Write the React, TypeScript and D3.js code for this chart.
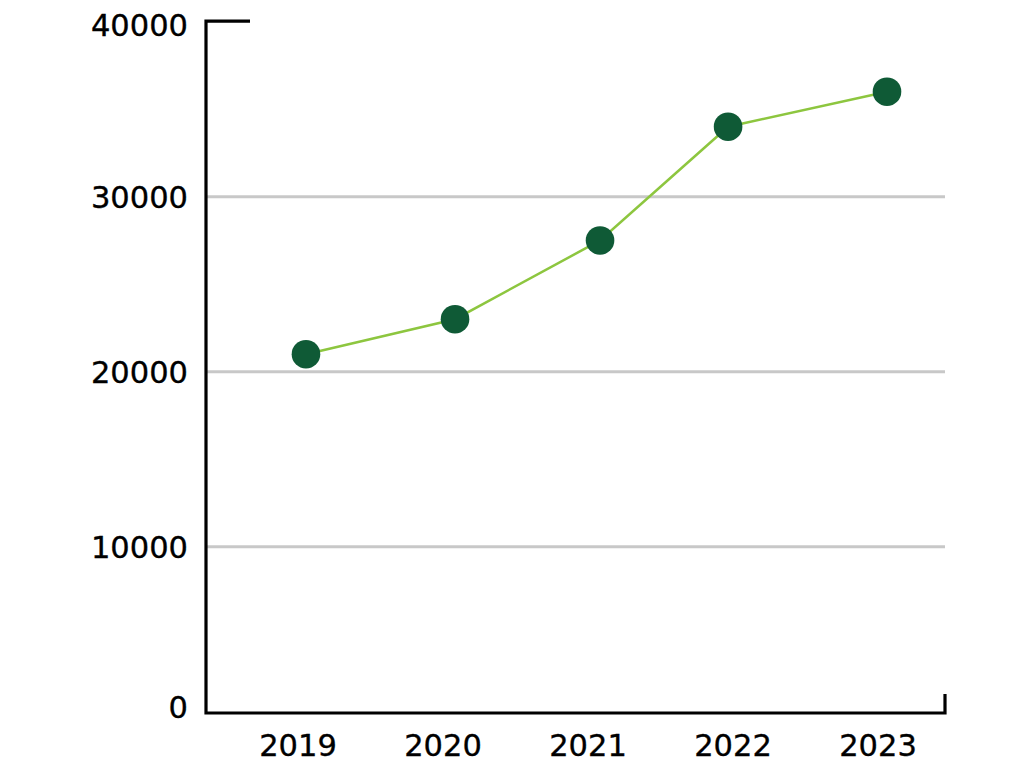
import React from "react";
import * as d3 from "d3";

const years = [2019, 2020, 2021, 2022, 2023];
const pointX = [2019.055, 2020.083, 2021.083, 2021.966, 2023.062];
const values = [21000, 23000, 27500, 34000, 36000];
const yTicks = [0, 10000, 20000, 30000, 40000];
const gridTicks = [10000, 20000, 30000];

export default function App() {
  const W = 1024, H = 775;
  const x = d3.scaleLinear().domain([2019, 2023]).range([298, 878]);
  const y = d3.scaleLinear().domain([0, 40000]).range([721.7, 21.7]);
  const axisY = 713;
  const left = 206, right = 945;
  const line = d3.line<number>().x((_, i) => x(pointX[i])).y((d) => y(d));
  const font = "'DejaVu Sans', sans-serif";
  const labelY = (t: number) => (t === 0 ? axisY - 6 : t === 40000 ? y(t) + 3.5 : y(t) + 0.5);
  return (
    <svg width={W} height={H} style={{ position: "absolute", left: 0, top: 0, background: "#fff" }}>
      {gridTicks.map((t) => (
        <line key={t} x1={left} x2={right} y1={y(t)} y2={y(t)} stroke="#c8c8c8" strokeWidth={3} />
      ))}
      <path d={`M${left + 44},${y(40000) - 0.5}H${left}V${axisY}H${right}V${axisY - 19}`} fill="none" stroke="#000" strokeWidth={3.2} />
      {yTicks.map((t) => (
        <text key={t} x={188} y={labelY(t)} textAnchor="end" dominantBaseline="central" fontFamily={font} fontSize={30.5} fill="#000" stroke="#000" strokeWidth={0.35}>
          {t}
        </text>
      ))}
      {years.map((yr) => (
        <text key={yr} x={x(yr)} y={756} textAnchor="middle" fontFamily={font} fontSize={30.5} fill="#000" stroke="#000" strokeWidth={0.35}>
          {yr}
        </text>
      ))}
      <path d={line(values) || ""} fill="none" stroke="#8dc63f" strokeWidth={2.5} />
      {values.map((v, i) => (
        <circle key={i} cx={x(pointX[i])} cy={y(v)} r={14.3} fill="#0f5a36" />
      ))}
    </svg>
  );
}
